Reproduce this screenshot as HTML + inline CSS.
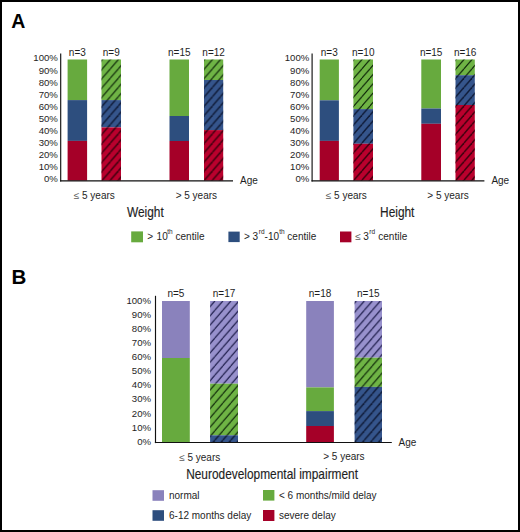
<!DOCTYPE html>
<html><head><meta charset="utf-8"><title>Growth and neurodevelopmental outcome</title>
<style>
html,body{margin:0;padding:0;background:#fff;}
body{width:520px;height:532px;overflow:hidden;}
svg{display:block;font-family:"Liberation Sans", sans-serif;}
text{font-family:"Liberation Sans", sans-serif;}
</style></head><body>
<svg width="520" height="532" viewBox="0 0 520 532">
<defs><pattern id="h0" patternUnits="userSpaceOnUse" x="102.40" y="59.50" width="8.0" height="9.280"><g stroke="#001200" stroke-width="1.1" stroke-opacity="0.9"><line x1="-8.00" y1="9.280" x2="0.00" y2="0"/><line x1="0.00" y1="9.280" x2="8.00" y2="0"/><line x1="8.00" y1="9.280" x2="16.00" y2="0"/></g></pattern><pattern id="h1" patternUnits="userSpaceOnUse" x="102.40" y="59.50" width="8.0" height="9.280"><g stroke="#060e26" stroke-width="1.5" stroke-opacity="0.8"><line x1="-8.00" y1="9.280" x2="0.00" y2="0"/><line x1="0.00" y1="9.280" x2="8.00" y2="0"/><line x1="8.00" y1="9.280" x2="16.00" y2="0"/></g></pattern><pattern id="h2" patternUnits="userSpaceOnUse" x="102.40" y="59.50" width="8.0" height="9.280"><g stroke="#2a0008" stroke-width="1.5" stroke-opacity="0.85"><line x1="-8.00" y1="9.280" x2="0.00" y2="0"/><line x1="0.00" y1="9.280" x2="8.00" y2="0"/><line x1="8.00" y1="9.280" x2="16.00" y2="0"/></g></pattern><pattern id="h3" patternUnits="userSpaceOnUse" x="204.50" y="59.50" width="8.0" height="9.280"><g stroke="#001200" stroke-width="1.1" stroke-opacity="0.9"><line x1="-8.00" y1="9.280" x2="0.00" y2="0"/><line x1="0.00" y1="9.280" x2="8.00" y2="0"/><line x1="8.00" y1="9.280" x2="16.00" y2="0"/></g></pattern><pattern id="h4" patternUnits="userSpaceOnUse" x="204.50" y="59.50" width="8.0" height="9.280"><g stroke="#060e26" stroke-width="1.5" stroke-opacity="0.8"><line x1="-8.00" y1="9.280" x2="0.00" y2="0"/><line x1="0.00" y1="9.280" x2="8.00" y2="0"/><line x1="8.00" y1="9.280" x2="16.00" y2="0"/></g></pattern><pattern id="h5" patternUnits="userSpaceOnUse" x="204.50" y="59.50" width="8.0" height="9.280"><g stroke="#2a0008" stroke-width="1.5" stroke-opacity="0.85"><line x1="-8.00" y1="9.280" x2="0.00" y2="0"/><line x1="0.00" y1="9.280" x2="8.00" y2="0"/><line x1="8.00" y1="9.280" x2="16.00" y2="0"/></g></pattern><pattern id="h6" patternUnits="userSpaceOnUse" x="354.00" y="59.50" width="8.0" height="9.280"><g stroke="#001200" stroke-width="1.1" stroke-opacity="0.9"><line x1="-8.00" y1="9.280" x2="0.00" y2="0"/><line x1="0.00" y1="9.280" x2="8.00" y2="0"/><line x1="8.00" y1="9.280" x2="16.00" y2="0"/></g></pattern><pattern id="h7" patternUnits="userSpaceOnUse" x="354.00" y="59.50" width="8.0" height="9.280"><g stroke="#060e26" stroke-width="1.5" stroke-opacity="0.8"><line x1="-8.00" y1="9.280" x2="0.00" y2="0"/><line x1="0.00" y1="9.280" x2="8.00" y2="0"/><line x1="8.00" y1="9.280" x2="16.00" y2="0"/></g></pattern><pattern id="h8" patternUnits="userSpaceOnUse" x="354.00" y="59.50" width="8.0" height="9.280"><g stroke="#2a0008" stroke-width="1.5" stroke-opacity="0.85"><line x1="-8.00" y1="9.280" x2="0.00" y2="0"/><line x1="0.00" y1="9.280" x2="8.00" y2="0"/><line x1="8.00" y1="9.280" x2="16.00" y2="0"/></g></pattern><pattern id="h9" patternUnits="userSpaceOnUse" x="456.00" y="59.50" width="8.0" height="9.280"><g stroke="#001200" stroke-width="1.1" stroke-opacity="0.9"><line x1="-8.00" y1="9.280" x2="0.00" y2="0"/><line x1="0.00" y1="9.280" x2="8.00" y2="0"/><line x1="8.00" y1="9.280" x2="16.00" y2="0"/></g></pattern><pattern id="h10" patternUnits="userSpaceOnUse" x="456.00" y="59.50" width="8.0" height="9.280"><g stroke="#060e26" stroke-width="1.5" stroke-opacity="0.8"><line x1="-8.00" y1="9.280" x2="0.00" y2="0"/><line x1="0.00" y1="9.280" x2="8.00" y2="0"/><line x1="8.00" y1="9.280" x2="16.00" y2="0"/></g></pattern><pattern id="h11" patternUnits="userSpaceOnUse" x="456.00" y="59.50" width="8.0" height="9.280"><g stroke="#2a0008" stroke-width="1.5" stroke-opacity="0.85"><line x1="-8.00" y1="9.280" x2="0.00" y2="0"/><line x1="0.00" y1="9.280" x2="8.00" y2="0"/><line x1="8.00" y1="9.280" x2="16.00" y2="0"/></g></pattern><pattern id="h12" patternUnits="userSpaceOnUse" x="214.80" y="301.00" width="8.0" height="9.280"><g stroke="#0a0a35" stroke-width="1.1" stroke-opacity="0.92"><line x1="-8.00" y1="9.280" x2="0.00" y2="0"/><line x1="0.00" y1="9.280" x2="8.00" y2="0"/><line x1="8.00" y1="9.280" x2="16.00" y2="0"/></g></pattern><pattern id="h13" patternUnits="userSpaceOnUse" x="214.80" y="301.00" width="8.0" height="9.280"><g stroke="#001200" stroke-width="1.1" stroke-opacity="0.9"><line x1="-8.00" y1="9.280" x2="0.00" y2="0"/><line x1="0.00" y1="9.280" x2="8.00" y2="0"/><line x1="8.00" y1="9.280" x2="16.00" y2="0"/></g></pattern><pattern id="h14" patternUnits="userSpaceOnUse" x="214.80" y="301.00" width="8.0" height="9.280"><g stroke="#060e26" stroke-width="1.5" stroke-opacity="0.8"><line x1="-8.00" y1="9.280" x2="0.00" y2="0"/><line x1="0.00" y1="9.280" x2="8.00" y2="0"/><line x1="8.00" y1="9.280" x2="16.00" y2="0"/></g></pattern><pattern id="h15" patternUnits="userSpaceOnUse" x="356.30" y="301.00" width="8.0" height="9.280"><g stroke="#0a0a35" stroke-width="1.1" stroke-opacity="0.92"><line x1="-8.00" y1="9.280" x2="0.00" y2="0"/><line x1="0.00" y1="9.280" x2="8.00" y2="0"/><line x1="8.00" y1="9.280" x2="16.00" y2="0"/></g></pattern><pattern id="h16" patternUnits="userSpaceOnUse" x="356.30" y="301.00" width="8.0" height="9.280"><g stroke="#001200" stroke-width="1.1" stroke-opacity="0.9"><line x1="-8.00" y1="9.280" x2="0.00" y2="0"/><line x1="0.00" y1="9.280" x2="8.00" y2="0"/><line x1="8.00" y1="9.280" x2="16.00" y2="0"/></g></pattern><pattern id="h17" patternUnits="userSpaceOnUse" x="356.30" y="301.00" width="8.0" height="9.280"><g stroke="#060e26" stroke-width="1.5" stroke-opacity="0.8"><line x1="-8.00" y1="9.280" x2="0.00" y2="0"/><line x1="0.00" y1="9.280" x2="8.00" y2="0"/><line x1="8.00" y1="9.280" x2="16.00" y2="0"/></g></pattern></defs>
<rect x="0" y="0" width="520" height="532" fill="#fff"/>
<text x="11.20" y="27.60" font-size="19.5" text-anchor="start" fill="#000" font-weight="bold" >A</text>
<text x="11.40" y="283.90" font-size="20.5" text-anchor="start" fill="#000" font-weight="bold" >B</text>
<text x="57.90" y="61.40" font-size="9.6" text-anchor="end" fill="#1e1e1e" font-weight="normal" >100%</text>
<text x="57.90" y="73.50" font-size="9.6" text-anchor="end" fill="#1e1e1e" font-weight="normal" >90%</text>
<text x="57.90" y="85.60" font-size="9.6" text-anchor="end" fill="#1e1e1e" font-weight="normal" >80%</text>
<text x="57.90" y="97.70" font-size="9.6" text-anchor="end" fill="#1e1e1e" font-weight="normal" >70%</text>
<text x="57.90" y="109.80" font-size="9.6" text-anchor="end" fill="#1e1e1e" font-weight="normal" >60%</text>
<text x="57.90" y="121.90" font-size="9.6" text-anchor="end" fill="#1e1e1e" font-weight="normal" >50%</text>
<text x="57.90" y="134.00" font-size="9.6" text-anchor="end" fill="#1e1e1e" font-weight="normal" >40%</text>
<text x="57.90" y="146.10" font-size="9.6" text-anchor="end" fill="#1e1e1e" font-weight="normal" >30%</text>
<text x="57.90" y="158.20" font-size="9.6" text-anchor="end" fill="#1e1e1e" font-weight="normal" >20%</text>
<text x="57.90" y="170.30" font-size="9.6" text-anchor="end" fill="#1e1e1e" font-weight="normal" >10%</text>
<text x="57.90" y="182.40" font-size="9.6" text-anchor="end" fill="#1e1e1e" font-weight="normal" >0%</text>
<rect x="67.60" y="59.50" width="19.50" height="40.60" fill="#67AA3E"/>
<rect x="67.60" y="100.10" width="19.50" height="40.80" fill="#2D4E7E"/>
<rect x="67.60" y="140.90" width="19.50" height="39.70" fill="#A50028"/>
<text x="77.35" y="55.60" font-size="10" text-anchor="middle" fill="#1e1e1e" font-weight="normal" >n=3</text>
<rect x="101.50" y="59.50" width="19.50" height="40.60" fill="#6FB445"/>
<rect x="101.50" y="59.50" width="19.50" height="40.60" fill="url(#h0)"/>
<rect x="101.50" y="100.10" width="19.50" height="27.30" fill="#35558C"/>
<rect x="101.50" y="100.10" width="19.50" height="27.30" fill="url(#h1)"/>
<rect x="101.50" y="127.40" width="19.50" height="53.20" fill="#BA002D"/>
<rect x="101.50" y="127.40" width="19.50" height="53.20" fill="url(#h2)"/>
<text x="111.25" y="55.60" font-size="10" text-anchor="middle" fill="#1e1e1e" font-weight="normal" >n=9</text>
<rect x="169.50" y="59.50" width="19.50" height="56.50" fill="#67AA3E"/>
<rect x="169.50" y="116.00" width="19.50" height="25.00" fill="#2D4E7E"/>
<rect x="169.50" y="141.00" width="19.50" height="39.60" fill="#A50028"/>
<text x="179.25" y="55.60" font-size="10" text-anchor="middle" fill="#1e1e1e" font-weight="normal" >n=15</text>
<rect x="204.00" y="59.50" width="19.20" height="20.50" fill="#6FB445"/>
<rect x="204.00" y="59.50" width="19.20" height="20.50" fill="url(#h3)"/>
<rect x="204.00" y="80.00" width="19.20" height="50.10" fill="#35558C"/>
<rect x="204.00" y="80.00" width="19.20" height="50.10" fill="url(#h4)"/>
<rect x="204.00" y="130.10" width="19.20" height="50.50" fill="#BA002D"/>
<rect x="204.00" y="130.10" width="19.20" height="50.50" fill="url(#h5)"/>
<text x="213.60" y="55.60" font-size="10" text-anchor="middle" fill="#1e1e1e" font-weight="normal" >n=12</text>
<line x1="60.70" y1="53.4" x2="60.70" y2="181.5" stroke="#111" stroke-width="1.15"/>
<line x1="60.10" y1="180.9" x2="233.00" y2="180.9" stroke="#111" stroke-width="1.2"/>
<text x="240.00" y="184.10" font-size="10" text-anchor="start" fill="#1e1e1e" font-weight="normal" >Age</text>
<text x="94.30" y="199.10" font-size="10" text-anchor="middle" fill="#1e1e1e" font-weight="normal" ><tspan fill="#5a5a5a">&#8804;</tspan> 5 years</text>
<text x="196.35" y="199.00" font-size="10" text-anchor="middle" fill="#1e1e1e" font-weight="normal" >&gt; 5 years</text>
<text x="145.40" y="217.20" font-size="14" text-anchor="middle" fill="#1e1e1e" font-weight="normal" transform="translate(145.40 217.20) scale(0.85 1) translate(-145.40 -217.20)" stroke="#1a1a1a" stroke-width="0.15">Weight</text>
<text x="309.30" y="61.40" font-size="9.6" text-anchor="end" fill="#1e1e1e" font-weight="normal" >100%</text>
<text x="309.30" y="73.50" font-size="9.6" text-anchor="end" fill="#1e1e1e" font-weight="normal" >90%</text>
<text x="309.30" y="85.60" font-size="9.6" text-anchor="end" fill="#1e1e1e" font-weight="normal" >80%</text>
<text x="309.30" y="97.70" font-size="9.6" text-anchor="end" fill="#1e1e1e" font-weight="normal" >70%</text>
<text x="309.30" y="109.80" font-size="9.6" text-anchor="end" fill="#1e1e1e" font-weight="normal" >60%</text>
<text x="309.30" y="121.90" font-size="9.6" text-anchor="end" fill="#1e1e1e" font-weight="normal" >50%</text>
<text x="309.30" y="134.00" font-size="9.6" text-anchor="end" fill="#1e1e1e" font-weight="normal" >40%</text>
<text x="309.30" y="146.10" font-size="9.6" text-anchor="end" fill="#1e1e1e" font-weight="normal" >30%</text>
<text x="309.30" y="158.20" font-size="9.6" text-anchor="end" fill="#1e1e1e" font-weight="normal" >20%</text>
<text x="309.30" y="170.30" font-size="9.6" text-anchor="end" fill="#1e1e1e" font-weight="normal" >10%</text>
<text x="309.30" y="182.40" font-size="9.6" text-anchor="end" fill="#1e1e1e" font-weight="normal" >0%</text>
<rect x="319.70" y="59.50" width="19.20" height="40.80" fill="#67AA3E"/>
<rect x="319.70" y="100.30" width="19.20" height="40.60" fill="#2D4E7E"/>
<rect x="319.70" y="140.90" width="19.20" height="39.70" fill="#A50028"/>
<text x="329.30" y="55.60" font-size="10" text-anchor="middle" fill="#1e1e1e" font-weight="normal" >n=3</text>
<rect x="353.40" y="59.50" width="19.60" height="49.60" fill="#6FB445"/>
<rect x="353.40" y="59.50" width="19.60" height="49.60" fill="url(#h6)"/>
<rect x="353.40" y="109.10" width="19.60" height="34.70" fill="#35558C"/>
<rect x="353.40" y="109.10" width="19.60" height="34.70" fill="url(#h7)"/>
<rect x="353.40" y="143.80" width="19.60" height="36.80" fill="#BA002D"/>
<rect x="353.40" y="143.80" width="19.60" height="36.80" fill="url(#h8)"/>
<text x="363.20" y="55.60" font-size="10" text-anchor="middle" fill="#1e1e1e" font-weight="normal" >n=10</text>
<rect x="421.30" y="59.50" width="19.70" height="49.00" fill="#67AA3E"/>
<rect x="421.30" y="108.50" width="19.70" height="15.30" fill="#2D4E7E"/>
<rect x="421.30" y="123.80" width="19.70" height="56.80" fill="#A50028"/>
<text x="431.15" y="55.60" font-size="10" text-anchor="middle" fill="#1e1e1e" font-weight="normal" >n=15</text>
<rect x="455.50" y="59.50" width="19.30" height="15.70" fill="#6FB445"/>
<rect x="455.50" y="59.50" width="19.30" height="15.70" fill="url(#h9)"/>
<rect x="455.50" y="75.20" width="19.30" height="29.80" fill="#35558C"/>
<rect x="455.50" y="75.20" width="19.30" height="29.80" fill="url(#h10)"/>
<rect x="455.50" y="105.00" width="19.30" height="75.60" fill="#BA002D"/>
<rect x="455.50" y="105.00" width="19.30" height="75.60" fill="url(#h11)"/>
<text x="465.15" y="55.60" font-size="10" text-anchor="middle" fill="#1e1e1e" font-weight="normal" >n=16</text>
<line x1="312.10" y1="53.4" x2="312.10" y2="181.5" stroke="#111" stroke-width="1.15"/>
<line x1="311.50" y1="180.9" x2="484.40" y2="180.9" stroke="#111" stroke-width="1.2"/>
<text x="491.40" y="184.10" font-size="10" text-anchor="start" fill="#1e1e1e" font-weight="normal" >Age</text>
<text x="346.35" y="199.10" font-size="10" text-anchor="middle" fill="#1e1e1e" font-weight="normal" ><tspan fill="#5a5a5a">&#8804;</tspan> 5 years</text>
<text x="448.05" y="199.00" font-size="10" text-anchor="middle" fill="#1e1e1e" font-weight="normal" >&gt; 5 years</text>
<text x="397.25" y="217.20" font-size="14" text-anchor="middle" fill="#1e1e1e" font-weight="normal" transform="translate(397.25 217.20) scale(0.85 1) translate(-397.25 -217.20)" stroke="#1a1a1a" stroke-width="0.15">Height</text>
<rect x="131.20" y="231.40" width="11.80" height="10.90" fill="#67AA3E"/>
<text x="147.35" y="240.10" font-size="10" text-anchor="start" fill="#1e1e1e" font-weight="normal" >&gt;</text>
<text x="156.60" y="240.10" font-size="10" text-anchor="start" fill="#1e1e1e" font-weight="normal" >10</text>
<text x="167.27" y="234.40" font-size="6.5" text-anchor="start" fill="#1e1e1e" font-weight="normal" >th</text>
<text x="175.55" y="240.10" font-size="10" text-anchor="start" fill="#1e1e1e" font-weight="normal" >centile</text>
<rect x="228.40" y="231.60" width="11.30" height="10.50" fill="#2D4E7E"/>
<text x="243.95" y="240.10" font-size="10" text-anchor="start" fill="#1e1e1e" font-weight="normal" >&gt;</text>
<text x="252.55" y="240.10" font-size="10" text-anchor="start" fill="#1e1e1e" font-weight="normal" >3</text>
<text x="258.75" y="234.40" font-size="6.5" text-anchor="start" fill="#1e1e1e" font-weight="normal" >rd</text>
<text x="264.55" y="240.10" font-size="10" text-anchor="start" fill="#1e1e1e" font-weight="normal" >-10</text>
<text x="279.17" y="234.40" font-size="6.5" text-anchor="start" fill="#1e1e1e" font-weight="normal" >th</text>
<text x="287.35" y="240.10" font-size="10" text-anchor="start" fill="#1e1e1e" font-weight="normal" >centile</text>
<rect x="340.00" y="231.50" width="11.40" height="10.80" fill="#A50028"/>
<text x="355.25" y="240.10" font-size="10" text-anchor="start" fill="#5a5a5a" font-weight="normal" >&#8804;</text>
<text x="363.30" y="240.10" font-size="10" text-anchor="start" fill="#1e1e1e" font-weight="normal" >3</text>
<text x="369.35" y="234.40" font-size="6.5" text-anchor="start" fill="#1e1e1e" font-weight="normal" >rd</text>
<text x="378.30" y="240.10" font-size="10" text-anchor="start" fill="#1e1e1e" font-weight="normal" >centile</text>
<text x="151.00" y="303.90" font-size="9.6" text-anchor="end" fill="#1e1e1e" font-weight="normal" >100%</text>
<text x="151.00" y="317.98" font-size="9.6" text-anchor="end" fill="#1e1e1e" font-weight="normal" >90%</text>
<text x="151.00" y="332.07" font-size="9.6" text-anchor="end" fill="#1e1e1e" font-weight="normal" >80%</text>
<text x="151.00" y="346.15" font-size="9.6" text-anchor="end" fill="#1e1e1e" font-weight="normal" >70%</text>
<text x="151.00" y="360.24" font-size="9.6" text-anchor="end" fill="#1e1e1e" font-weight="normal" >60%</text>
<text x="151.00" y="374.32" font-size="9.6" text-anchor="end" fill="#1e1e1e" font-weight="normal" >50%</text>
<text x="151.00" y="388.41" font-size="9.6" text-anchor="end" fill="#1e1e1e" font-weight="normal" >40%</text>
<text x="151.00" y="402.49" font-size="9.6" text-anchor="end" fill="#1e1e1e" font-weight="normal" >30%</text>
<text x="151.00" y="416.58" font-size="9.6" text-anchor="end" fill="#1e1e1e" font-weight="normal" >20%</text>
<text x="151.00" y="430.67" font-size="9.6" text-anchor="end" fill="#1e1e1e" font-weight="normal" >10%</text>
<text x="151.00" y="444.75" font-size="9.6" text-anchor="end" fill="#1e1e1e" font-weight="normal" >0%</text>
<rect x="162.00" y="301.00" width="27.80" height="57.00" fill="#8A82BC"/>
<rect x="162.00" y="358.00" width="27.80" height="84.00" fill="#67AA3E"/>
<text x="175.90" y="297.00" font-size="10" text-anchor="middle" fill="#1e1e1e" font-weight="normal" >n=5</text>
<rect x="210.10" y="301.00" width="27.90" height="82.70" fill="#9891CD"/>
<rect x="210.10" y="301.00" width="27.90" height="82.70" fill="url(#h12)"/>
<rect x="210.10" y="383.70" width="27.90" height="51.60" fill="#6FB445"/>
<rect x="210.10" y="383.70" width="27.90" height="51.60" fill="url(#h13)"/>
<rect x="210.10" y="435.30" width="27.90" height="6.70" fill="#35558C"/>
<rect x="210.10" y="435.30" width="27.90" height="6.70" fill="url(#h14)"/>
<text x="224.05" y="297.00" font-size="10" text-anchor="middle" fill="#1e1e1e" font-weight="normal" >n=17</text>
<rect x="306.20" y="301.00" width="27.70" height="86.40" fill="#8A82BC"/>
<rect x="306.20" y="387.40" width="27.70" height="23.70" fill="#67AA3E"/>
<rect x="306.20" y="411.10" width="27.70" height="14.90" fill="#2D4E7E"/>
<rect x="306.20" y="426.00" width="27.70" height="16.00" fill="#A50028"/>
<text x="320.05" y="297.00" font-size="10" text-anchor="middle" fill="#1e1e1e" font-weight="normal" >n=18</text>
<rect x="354.60" y="301.00" width="27.40" height="56.70" fill="#9891CD"/>
<rect x="354.60" y="301.00" width="27.40" height="56.70" fill="url(#h15)"/>
<rect x="354.60" y="357.70" width="27.40" height="29.20" fill="#6FB445"/>
<rect x="354.60" y="357.70" width="27.40" height="29.20" fill="url(#h16)"/>
<rect x="354.60" y="386.90" width="27.40" height="55.10" fill="#35558C"/>
<rect x="354.60" y="386.90" width="27.40" height="55.10" fill="url(#h17)"/>
<text x="368.30" y="297.00" font-size="10" text-anchor="middle" fill="#1e1e1e" font-weight="normal" >n=15</text>
<line x1="155.50" y1="295.8" x2="155.50" y2="443.1" stroke="#111" stroke-width="1.15"/>
<line x1="154.90" y1="442.5" x2="391.8" y2="442.5" stroke="#111" stroke-width="1.2"/>
<text x="398.50" y="445.50" font-size="10" text-anchor="start" fill="#1e1e1e" font-weight="normal" >Age</text>
<text x="199.70" y="460.50" font-size="10" text-anchor="middle" fill="#1e1e1e" font-weight="normal" ><tspan fill="#5a5a5a">&#8804;</tspan> 5 years</text>
<text x="343.90" y="460.20" font-size="10" text-anchor="middle" fill="#1e1e1e" font-weight="normal" >&gt; 5 years</text>
<text x="272.10" y="478.60" font-size="14" text-anchor="middle" fill="#1e1e1e" font-weight="normal" transform="translate(272.10 478.60) scale(0.85 1) translate(-272.10 -478.60)" stroke="#1a1a1a" stroke-width="0.15">Neurodevelopmental impairment</text>
<rect x="152.50" y="490.20" width="11.50" height="10.60" fill="#8A82BC"/>
<text x="169.00" y="499.10" font-size="10" text-anchor="start" fill="#1e1e1e" font-weight="normal" >normal</text>
<rect x="152.50" y="510.20" width="11.50" height="10.60" fill="#2D4E7E"/>
<text x="169.00" y="518.50" font-size="10" text-anchor="start" fill="#1e1e1e" font-weight="normal" >6-12 months delay</text>
<rect x="263.00" y="490.00" width="11.40" height="10.60" fill="#67AA3E"/>
<text x="279.00" y="499.10" font-size="10" text-anchor="start" fill="#1e1e1e" font-weight="normal" >&lt; 6 months/mild delay</text>
<rect x="263.00" y="510.00" width="11.40" height="11.00" fill="#A50028"/>
<text x="279.00" y="518.50" font-size="10" text-anchor="start" fill="#1e1e1e" font-weight="normal" >severe delay</text>
<rect x="1" y="1" width="518" height="530" fill="none" stroke="#000" stroke-width="2"/>
</svg>
</body></html>
